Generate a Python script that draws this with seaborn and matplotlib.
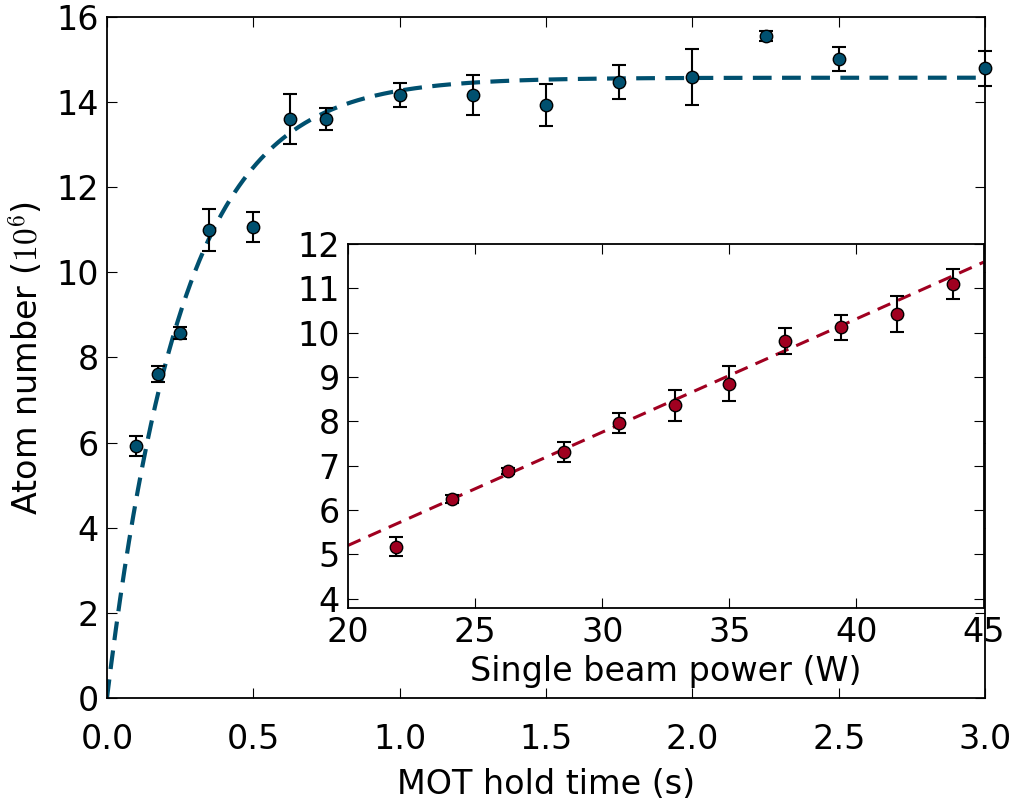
import numpy as np
import pandas as pd
import seaborn as sns
import matplotlib
matplotlib.use("Agg")
import matplotlib.pyplot as plt

# 主图数据: MOT 装载曲线
hold_time = [0.1, 0.175, 0.25, 0.35, 0.5, 0.625, 0.75, 1.0, 1.25, 1.5, 1.75, 2.0, 2.25, 2.5, 3.0]
atom_number = [5.92, 7.61, 8.57, 11.0, 11.06, 13.6, 13.6, 14.16, 14.17, 13.93, 14.47, 14.59, 15.56, 15.01, 14.8]
atom_err = [0.23, 0.19, 0.14, 0.49, 0.35, 0.58, 0.25, 0.28, 0.47, 0.5, 0.4, 0.66, 0.12, 0.29, 0.41]

# 插图数据: 单光束功率
beam_power = [21.9, 24.1, 26.3, 28.5, 30.65, 32.85, 35.0, 37.2, 39.4, 41.6, 43.8]
inset_number = [5.18, 6.25, 6.89, 7.31, 7.96, 8.36, 8.85, 9.82, 10.12, 10.42, 11.1]
inset_err = [0.21, 0.08, 0.07, 0.23, 0.22, 0.34, 0.39, 0.29, 0.28, 0.40, 0.34]

blue = "#00506f"
red = "#a00020"

sns.set_style("ticks")
plt.rcParams.update({
    "font.family": ["DejaVu Sans"],
    "mathtext.fontset": "cm",
    "font.size": 24,
    "text.color": "black",
    "axes.labelcolor": "black",
    "xtick.direction": "in",
    "ytick.direction": "in",
    "xtick.top": True,
    "ytick.right": True,
    "xtick.major.size": 7,
    "ytick.major.size": 7,
    "xtick.major.pad": 6,
    "ytick.major.pad": 6,
    "axes.linewidth": 1.3,
    "axes.edgecolor": "black",
    "xtick.color": "black",
    "ytick.color": "black",
})

main_df = pd.DataFrame({"t": hold_time, "N": atom_number, "err": atom_err})
inset_df = pd.DataFrame({"P": beam_power, "N": inset_number, "err": inset_err})

# 指数拟合 N = A(1 - exp(-t/tau)), 网格搜索
tt = main_df["t"].to_numpy()
yy = main_df["N"].to_numpy()
best = None
for tau in np.linspace(0.1, 0.6, 1001):
    f = 1 - np.exp(-tt / tau)
    A = np.sum(f * yy) / np.sum(f * f)
    chi = np.sum((yy - A * f) ** 2)
    if best is None or chi < best[0]:
        best = (chi, A, tau)
_, A_fit, tau_fit = best
t_line = np.linspace(0, 3, 400)
fit_main = pd.DataFrame({"t": t_line, "N": A_fit * (1 - np.exp(-t_line / tau_fit))})

# 线性拟合
coef = np.polyfit(inset_df["P"], inset_df["N"], 1, w=1 / inset_df["err"])
p_line = np.linspace(20, 45, 50)
fit_inset = pd.DataFrame({"P": p_line, "N": np.polyval(coef, p_line)})

fig = plt.figure(figsize=(10.13, 8.01), dpi=100)
ax = fig.add_axes([0.1056, 0.1286, 0.8668, 0.8502])

sns.lineplot(data=fit_main, x="t", y="N", ax=ax, color=blue, lw=3)
ax.lines[-1].set_dashes((4.5, 2.5))
ax.errorbar(main_df["t"], main_df["N"], yerr=main_df["err"], fmt="none",
            ecolor="black", elinewidth=1.5, capsize=5, capthick=1.5, zorder=3,
            clip_on=False)
sns.scatterplot(data=main_df, x="t", y="N", ax=ax, color=blue, s=80,
                edgecolor="black", linewidth=1, zorder=4, clip_on=False)
ax.set_xlim(0, 3.0)
ax.set_ylim(0, 16)
ax.set_xticks(np.arange(0, 3.01, 0.5))
ax.set_yticks(np.arange(0, 16.1, 2))
ax.tick_params(axis="x", pad=18)
ax.set_xlabel("MOT hold time (s)", labelpad=9)
ax.set_ylabel("Atom number ($10^6$)", labelpad=8)

ins = fig.add_axes([0.3435, 0.2413, 0.6274, 0.4541])
sns.lineplot(data=fit_inset, x="P", y="N", ax=ins, color=red, lw=2.2)
ins.lines[-1].set_dashes((4.5, 2.8))
ins.errorbar(inset_df["P"], inset_df["N"], yerr=inset_df["err"], fmt="none",
             ecolor="black", elinewidth=1.5, capsize=5, capthick=1.5, zorder=3)
sns.scatterplot(data=inset_df, x="P", y="N", ax=ins, color=red, s=80,
                edgecolor="black", linewidth=1, zorder=4)
ins.set_xlim(20, 45)
ins.set_ylim(3.8, 12)
ins.set_xticks(range(20, 46, 5))
ins.set_yticks(range(4, 13))
ins.tick_params(axis="x", pad=6)
ins.set_xlabel("Single beam power (W)", labelpad=4)
ins.set_ylabel("")

fig.savefig("out.png", dpi=100)
